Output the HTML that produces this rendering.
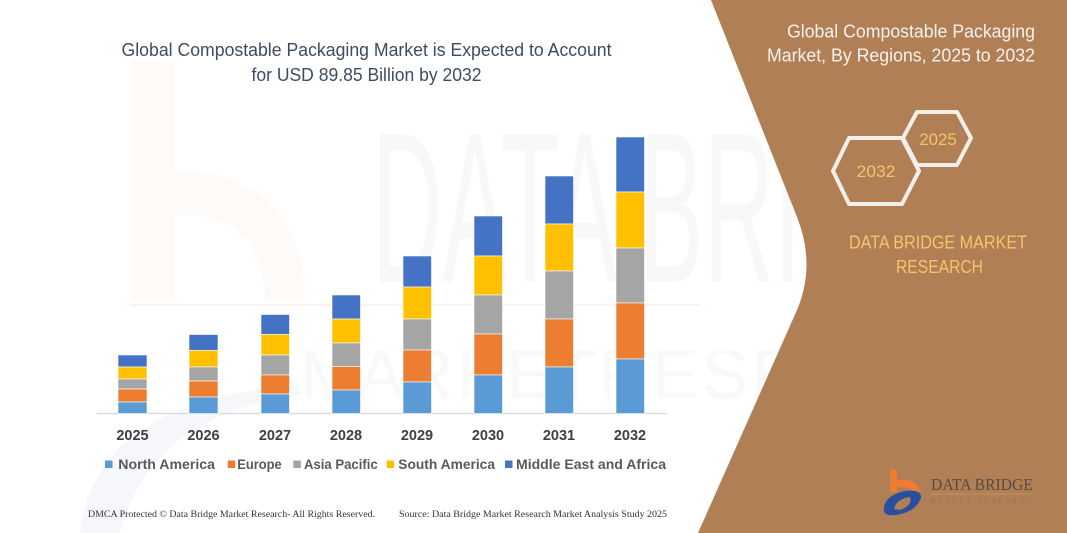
<!DOCTYPE html>
<html>
<head>
<meta charset="utf-8">
<style>
html,body{margin:0;padding:0;background:#fff;}
body{width:1067px;height:533px;overflow:hidden;}
svg{display:block;}
</style>
</head>
<body>
<svg width="1067" height="533" viewBox="0 0 1067 533" xmlns="http://www.w3.org/2000/svg">
  <rect x="0" y="0" width="1067" height="533" fill="#ffffff"/>

  <!-- faint watermarks -->
  <g opacity="0.35">
    <rect x="133" y="60" width="40" height="240" fill="#fdf1ea"/>
    <path d="M173,170 Q300,170 305,300 L265,300 Q262,210 173,215 Z" fill="#fdf1ea"/>
  </g>
  <path d="M80,533 Q95,400 300,385 L300,395 Q150,415 120,533 Z" fill="#f5f7fb"/>
  <text x="372" y="282" font-family="Liberation Sans, sans-serif" font-size="215" fill="#f8f8f8" textLength="640" lengthAdjust="spacingAndGlyphs">DATA BRIDGE</text>
  <text x="300" y="398" font-family="Liberation Sans, sans-serif" font-size="70" fill="#f9f9f9" textLength="700" lengthAdjust="spacing">M A R K E T R E S E A R C H</text>
  <line x1="130" y1="305" x2="700" y2="305" stroke="#fcf3ee" stroke-width="2"/>

  <!-- brown panel -->
  <path d="M711,0 L797,217 Q816,265 797,310 L698,533 L1067,533 L1067,0 Z" fill="#b07f56"/>

  <!-- title -->
  <text x="121.5" y="56" font-family="Liberation Sans, sans-serif" font-size="18.5" fill="#3e4c60" textLength="490" lengthAdjust="spacingAndGlyphs">Global Compostable Packaging Market is Expected to Account</text>
  <text x="251.5" y="81" font-family="Liberation Sans, sans-serif" font-size="18.5" fill="#3e4c60" textLength="230" lengthAdjust="spacingAndGlyphs">for USD 89.85 Billion by 2032</text>

  <!-- axis line -->
  <line x1="97" y1="413.5" x2="667" y2="413.5" stroke="#d9d9d9" stroke-width="1.2"/>

  <!-- bars -->
  <g stroke="#ffffff" stroke-width="0.6">
    <rect x="118" y="355" width="29" height="12" fill="#4472c4"/>
    <rect x="118" y="367" width="29" height="12" fill="#ffc000"/>
    <rect x="118" y="379" width="29" height="10" fill="#a5a5a5"/>
    <rect x="118" y="389" width="29" height="13" fill="#ed7d31"/>
    <rect x="118" y="402" width="29" height="11.5" fill="#5b9bd5"/>

    <rect x="189" y="334.5" width="29" height="16" fill="#4472c4"/>
    <rect x="189" y="350.5" width="29" height="16.5" fill="#ffc000"/>
    <rect x="189" y="367" width="29" height="14" fill="#a5a5a5"/>
    <rect x="189" y="381" width="29" height="16" fill="#ed7d31"/>
    <rect x="189" y="397" width="29" height="16.5" fill="#5b9bd5"/>

    <rect x="261" y="314.5" width="28.5" height="20" fill="#4472c4"/>
    <rect x="261" y="334.5" width="28.5" height="20.5" fill="#ffc000"/>
    <rect x="261" y="355" width="28.5" height="20" fill="#a5a5a5"/>
    <rect x="261" y="375" width="28.5" height="19" fill="#ed7d31"/>
    <rect x="261" y="394" width="28.5" height="19.5" fill="#5b9bd5"/>

    <rect x="332" y="295" width="28.5" height="24" fill="#4472c4"/>
    <rect x="332" y="319" width="28.5" height="24" fill="#ffc000"/>
    <rect x="332" y="343" width="28.5" height="23.5" fill="#a5a5a5"/>
    <rect x="332" y="366.5" width="28.5" height="23.5" fill="#ed7d31"/>
    <rect x="332" y="390" width="28.5" height="23.5" fill="#5b9bd5"/>

    <rect x="403" y="256" width="28.5" height="31" fill="#4472c4"/>
    <rect x="403" y="287" width="28.5" height="32" fill="#ffc000"/>
    <rect x="403" y="319" width="28.5" height="31" fill="#a5a5a5"/>
    <rect x="403" y="350" width="28.5" height="32" fill="#ed7d31"/>
    <rect x="403" y="382" width="28.5" height="31.5" fill="#5b9bd5"/>

    <rect x="474" y="216" width="28.5" height="40" fill="#4472c4"/>
    <rect x="474" y="256" width="28.5" height="39" fill="#ffc000"/>
    <rect x="474" y="295" width="28.5" height="39" fill="#a5a5a5"/>
    <rect x="474" y="334" width="28.5" height="41" fill="#ed7d31"/>
    <rect x="474" y="375" width="28.5" height="38.5" fill="#5b9bd5"/>

    <rect x="545" y="176" width="28.5" height="48" fill="#4472c4"/>
    <rect x="545" y="224" width="28.5" height="47" fill="#ffc000"/>
    <rect x="545" y="271" width="28.5" height="48" fill="#a5a5a5"/>
    <rect x="545" y="319" width="28.5" height="48" fill="#ed7d31"/>
    <rect x="545" y="367" width="28.5" height="46.5" fill="#5b9bd5"/>

    <rect x="616" y="137" width="28.5" height="55" fill="#4472c4"/>
    <rect x="616" y="192" width="28.5" height="56" fill="#ffc000"/>
    <rect x="616" y="248" width="28.5" height="55" fill="#a5a5a5"/>
    <rect x="616" y="303" width="28.5" height="56" fill="#ed7d31"/>
    <rect x="616" y="359" width="28.5" height="54.5" fill="#5b9bd5"/>
  </g>

  <!-- year labels -->
  <g font-family="Liberation Sans, sans-serif" font-size="14.5" font-weight="bold" fill="#404040" text-anchor="middle">
    <text x="132.5" y="440">2025</text>
    <text x="203.5" y="440">2026</text>
    <text x="275" y="440">2027</text>
    <text x="346" y="440">2028</text>
    <text x="417" y="440">2029</text>
    <text x="488" y="440">2030</text>
    <text x="559" y="440">2031</text>
    <text x="630" y="440">2032</text>
  </g>

  <!-- legend -->
  <rect x="105" y="460.5" width="7.5" height="7.5" fill="#5b9bd5"/>
  <rect x="227.7" y="460.5" width="7.5" height="7.5" fill="#ed7d31"/>
  <rect x="293.3" y="460.5" width="7.5" height="7.5" fill="#a5a5a5"/>
  <rect x="386.7" y="460.5" width="7.5" height="7.5" fill="#ffc000"/>
  <rect x="505" y="460.5" width="7.5" height="7.5" fill="#4472c4"/>
  <g font-family="Liberation Sans, sans-serif" font-size="13.5" font-weight="bold" fill="#595959">
    <text x="118.3" y="469" textLength="96.7" lengthAdjust="spacingAndGlyphs">North America</text>
    <text x="237.3" y="469" textLength="44.4" lengthAdjust="spacingAndGlyphs">Europe</text>
    <text x="304" y="469" textLength="73.7" lengthAdjust="spacingAndGlyphs">Asia Pacific</text>
    <text x="398.3" y="469" textLength="96.7" lengthAdjust="spacingAndGlyphs">South America</text>
    <text x="516" y="469" textLength="150" lengthAdjust="spacingAndGlyphs">Middle East and Africa</text>
  </g>

  <!-- footer -->
  <g font-family="Liberation Serif, serif" font-size="9.5" fill="#333333">
    <text x="88" y="517" textLength="287" lengthAdjust="spacingAndGlyphs">DMCA Protected © Data Bridge Market Research- All Rights Reserved.</text>
    <text x="399" y="517" textLength="268" lengthAdjust="spacingAndGlyphs">Source: Data Bridge Market Research Market Analysis Study 2025</text>
  </g>

  <!-- right panel title -->
  <g font-family="Liberation Sans, sans-serif" font-size="18.5" fill="#f6f1ec">
    <text x="787" y="37.5" textLength="248" lengthAdjust="spacingAndGlyphs">Global Compostable Packaging</text>
    <text x="767" y="61.5" textLength="268" lengthAdjust="spacingAndGlyphs">Market, By Regions, 2025 to 2032</text>
  </g>

  <!-- hexagons -->
  <g fill="none" stroke="#f4eee8" stroke-width="4" stroke-linejoin="round">
    <polygon points="833,171 849,138 902,138 919,171 902,204 849,204"/>
    <polygon points="903,138 917,112 957,112 971,138 957,165 917,165"/>
  </g>
  <g font-family="Liberation Sans, sans-serif" font-size="17" fill="#f5c46a" text-anchor="middle">
    <text x="876" y="177" textLength="39" lengthAdjust="spacingAndGlyphs">2032</text>
    <text x="938" y="145" textLength="37.5" lengthAdjust="spacingAndGlyphs">2025</text>
  </g>

  <!-- DATA BRIDGE MARKET RESEARCH -->
  <g font-family="Liberation Sans, sans-serif" font-size="18" fill="#f6c36b">
    <text x="849" y="248.5" textLength="178" lengthAdjust="spacingAndGlyphs">DATA BRIDGE MARKET</text>
    <text x="896" y="273" textLength="87" lengthAdjust="spacingAndGlyphs">RESEARCH</text>
  </g>

  <!-- logo -->
  <g>
    <rect x="890" y="470" width="7" height="22" fill="#f07b32"/>
    <path d="M897,480 Q918,478 920,492 L912,492 Q911,486 897,487 Z" fill="#f07b32"/>
    <path d="M884,512 Q882,496 905,491 Q922,489 921,498 Q916,512 896,515 Q886,516 884,512 Z" fill="#2b4fa0"/>
    <path d="M894,509 Q896,499 910,497 Q913,505 900,510 Z" fill="#b07f56"/>
  </g>
  <text x="931" y="490" font-family="Liberation Serif, serif" font-size="17" fill="#5a4a3f" textLength="102" lengthAdjust="spacingAndGlyphs">DATA BRIDGE</text>
  <line x1="931" y1="494" x2="1033" y2="494" stroke="#c98f62" stroke-width="1"/>
  <text x="931" y="503" font-family="Liberation Sans, sans-serif" font-size="5.5" fill="#8c735f" textLength="100" lengthAdjust="spacing">MARKET RESEARCH</text>
</svg>
</body>
</html>
